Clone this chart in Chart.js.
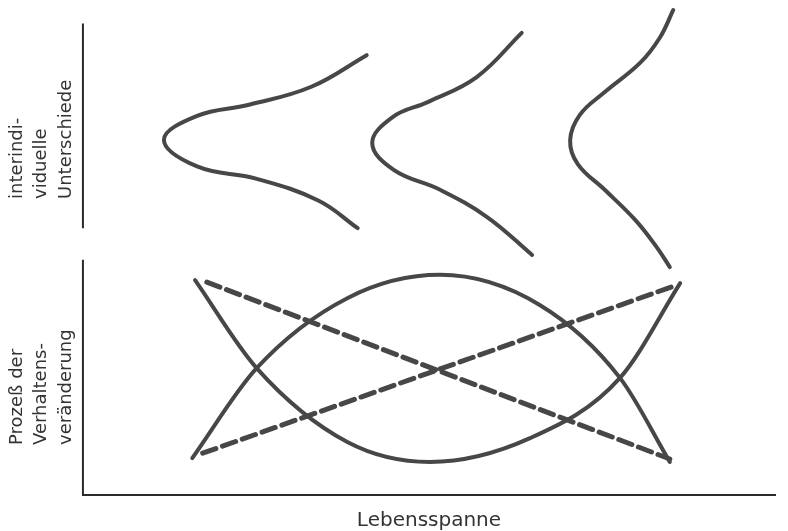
<!DOCTYPE html>
<html>
<head>
<meta charset="utf-8">
<script src="https://cdn.jsdelivr.net/npm/chart.js@4/dist/chart.umd.min.js"></script>
<style>
  html, body { margin: 0; padding: 0; background: #fff; }
</style>
</head>
<body>
<canvas id="myChart" width="788" height="531"></canvas>
<script>
// Axis texts
const xTitle = 'Lebensspanne'
const upperTitle = ['interindi-', 'viduelle', 'Unterschiede']
const lowerTitle = ['Prozeß der', 'Verhaltens-', 'veränderung']

// Left axis is drawn in two pieces (x = 0)
const axisUpperY = [97.0, 54.9]
const axisLowerY = [48.4, 0]

// Upper panel: spread of individual differences at three ages
const spread1X = [41.0, 33.0, 24.0, 16.5, 11.7, 16.5, 25.0, 34.0, 39.7]
const spread1Y = [90.5, 84.0, 80.3, 78.0, 73.1, 67.6, 65.1, 60.6, 54.9]
const spread2X = [63.4, 56.9, 49.9, 44.8, 41.8, 44.9, 51.6, 58.4, 64.9]
const spread2Y = [95.1, 86.0, 80.9, 77.8, 72.4, 66.9, 62.8, 57.2, 49.4]
const spread3X = [85.3, 83.4, 80.5, 75.4, 71.8, 70.4, 71.5, 75.4, 79.8, 82.9, 84.8]
const spread3Y = [99.8, 94.2, 88.9, 82.9, 78.2, 73.0, 68.1, 62.8, 56.6, 51.0, 46.9]

// Lower panel: processes of change over the lifespan
const uCurveX = [16.2, 25.1, 38.2, 50.1, 64.6, 77.6, 86.3]
const uCurveY = [44.2, 26.1, 10.9, 6.8, 11.7, 24.1, 43.6]
const archX = [15.8, 25.1, 38.2, 51.6, 66.0, 77.6, 84.8]
const archY = [7.6, 26.1, 40.5, 45.3, 39.1, 24.1, 6.8]
const fallX = [17.9, 84.8]
const fallY = [43.8, 7.4]
const riseX = [17.3, 85.8]
const riseY = [8.6, 43.2]

const ink = '#474747'
const axisInk = '#2b2b2b'
const font = 'DejaVu Sans'

function pts(xs, ys) {
  return xs.map((x, i) => ({x: x, y: ys[i]}))
}

// mode: 'bend' for sideways curves, 'arc' for x-monotone arcs, 'dash' for straight dashed lines
function curve(xs, ys, mode) {
  return {
    data: pts(xs, ys),
    yAxisID: 'y',
    showLine: true,
    borderColor: ink,
    borderWidth: mode === 'dash' ? 5 : 4,
    borderDash: mode === 'dash' ? [14, 7] : [],
    borderCapStyle: 'round',
    borderJoinStyle: 'round',
    pointRadius: 0,
    tension: mode === 'dash' ? 0 : 0.4,
    cubicInterpolationMode: mode === 'arc' ? 'monotone' : 'default',
    clip: false
  }
}

function axisPiece(ys) {
  return {
    data: pts([0, 0], ys),
    yAxisID: 'y',
    showLine: true,
    borderColor: axisInk,
    borderWidth: 2,
    pointRadius: 0,
    clip: false
  }
}

function titleAxis(text, weight, share) {
  return {
    type: 'linear',
    position: 'left',
    stack: 'left',
    stackWeight: share,
    weight: weight,
    grid: { display: false, drawTicks: false },
    border: { display: false },
    ticks: { display: false },
    title: {
      display: !!text,
      text: text || '',
      align: 'start',
      color: '#333',
      font: { family: font, size: 18, lineHeight: 1.36 },
      padding: { top: 5, bottom: 4.5 }
    }
  }
}

new Chart(document.getElementById('myChart'), {
  type: 'scatter',
  data: {
    datasets: [
      axisPiece(axisUpperY),
      axisPiece(axisLowerY),
      curve(spread1X, spread1Y, 'bend'),
      curve(spread2X, spread2Y, 'bend'),
      curve(spread3X, spread3Y, 'bend'),
      curve(uCurveX, uCurveY, 'arc'),
      curve(archX, archY, 'arc'),
      curve(fallX, fallY, 'dash'),
      curve(riseX, riseY, 'dash')
    ]
  },
  options: {
    responsive: false,
    animation: false,
    layout: { padding: { top: 9, right: 13, bottom: 0, left: 0 } },
    plugins: {
      legend: { display: false },
      tooltip: { enabled: false }
    },
    scales: {
      x: {
        type: 'linear',
        min: 0,
        max: 100,
        grid: { display: false, drawTicks: false },
        ticks: { display: false },
        border: { display: true, color: axisInk, width: 2 },
        title: {
          display: true,
          text: xTitle,
          color: '#333',
          font: { family: font, size: 20, lineHeight: 1 },
          padding: { top: 16, bottom: 0 }
        }
      },
      y: { type: 'linear', min: 0, max: 100, display: false },
      yPad: titleAxis(null, 1, 50),
      yLower: titleAxis(lowerTitle, 2, 246),
      yUpper: titleAxis(upperTitle, 3, 190)
    }
  }
})
</script>
</body>
</html>
